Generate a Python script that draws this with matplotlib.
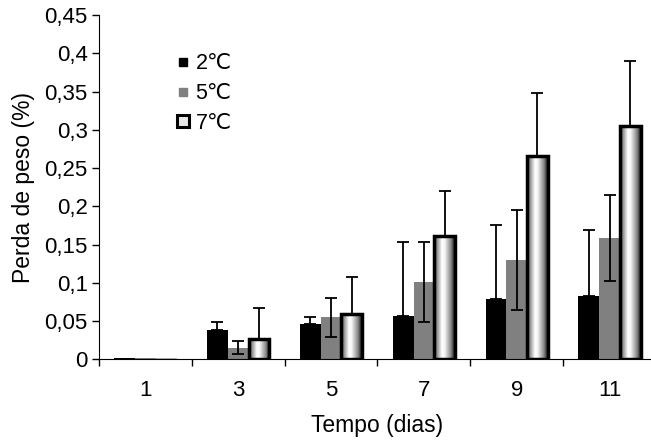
import numpy as np
import matplotlib.pyplot as plt
from matplotlib.lines import Line2D

plt.rcParams['font.family'] = ['Liberation Sans', 'DejaVu Sans']

dias = ['1', '3', '5', '7', '9', '11']
perda_2 = [0.002, 0.039, 0.046, 0.057, 0.079, 0.083]
erro_2 = [0.0, 0.010, 0.009, 0.097, 0.097, 0.086]
perda_5 = [0.002, 0.0155, 0.055, 0.1015, 0.130, 0.159]
erro_5 = [0.0, 0.008, 0.025, 0.052, 0.0655, 0.0565]
perda_7 = [0.002, 0.0265, 0.060, 0.162, 0.2665, 0.3045]
erro_7 = [0.0, 0.0405, 0.048, 0.058, 0.082, 0.0855]
series = ['2\u2103', '5\u2103', '7\u2103']

yticks = [0, 0.05, 0.1, 0.15, 0.2, 0.25, 0.3, 0.35, 0.4, 0.45]
ytick_labels = ['0', '0,05', '0,1', '0,15', '0,2', '0,25', '0,3', '0,35', '0,4', '0,45']

fs = 16
w = 0.223
x = np.arange(len(dias))

fig = plt.figure(figsize=(6.51, 4.46), dpi=100)
ax = fig.add_axes([0.152, 0.194, 0.8556, 0.772])

b2 = ax.bar(x - w, perda_2, w, color='black', zorder=2)
b5 = ax.bar(x, perda_5, w, color='#808080', zorder=2)
lw7 = [0.6 if v < 0.005 else 2.5 for v in perda_7]
ec7 = ['#999999' if v < 0.005 else 'black' for v in perda_7]
b7 = ax.bar(x + w, perda_7, w, facecolor='none', edgecolor=ec7, linewidth=lw7, zorder=3)

# cylinder-like shading inside the 7C bars
prof = np.interp(np.linspace(0, 1, 64), [0, 0.08, 0.38, 0.5, 0.8, 1.0], [0.05, 0.45, 1.0, 0.97, 0.55, 0.1])
grad = np.tile(prof, (2, 1))
for r in b7:
    if r.get_height() < 0.005:
        continue
    ax.imshow(grad, cmap='gray', vmin=0, vmax=1, aspect='auto', interpolation='bilinear',
              extent=[r.get_x(), r.get_x() + r.get_width(), 0, r.get_height()], zorder=2.5)

ekw = dict(fmt='none', ecolor='black', elinewidth=1.3, capsize=4.5, capthick=1.3, zorder=4)
for xs, vals, errs, lower in [(x - w, perda_2, erro_2, False), (x, perda_5, erro_5, True), (x + w, perda_7, erro_7, False)]:
    idx = [i for i, e in enumerate(errs) if e > 0]
    xe = [xs[i] for i in idx]
    ye = [vals[i] for i in idx]
    up = [errs[i] for i in idx]
    lo = up if lower else [0] * len(idx)
    ax.errorbar(xe, ye, yerr=[lo, up], **ekw)

ax.set_xlim(-0.5, 5.5)
ax.set_ylim(0, 0.45)
ax.set_yticks(yticks)
ax.set_yticklabels(ytick_labels, fontsize=fs)
ax.set_xticks(x)
ax.set_xticklabels(dias, fontsize=fs)
ax.set_xticks(np.arange(-0.5, 6, 1), minor=True)
ax.tick_params(axis='x', which='major', length=0, pad=15)
ax.tick_params(axis='x', which='minor', length=5, direction='out', width=1)
ax.tick_params(axis='y', length=5, direction='out', width=1, pad=3)
ax.spines['top'].set_visible(False)
ax.spines['right'].set_visible(False)
ax.set_ylabel('Perda de peso (%)', fontsize=fs + 0.5, labelpad=7)
ax.set_xlabel('Tempo (dias)', fontsize=fs + 0.5, labelpad=9)

handles = [
    Line2D([], [], marker='s', linestyle='none', color='black', markersize=6),
    Line2D([], [], marker='s', linestyle='none', color='#808080', markersize=6),
    Line2D([], [], marker='s', linestyle='none', markerfacecolor='#e8e8e8', markeredgecolor='black',
           markeredgewidth=2.2, markersize=9),
]
leg = ax.legend(handles, series, loc='upper left', bbox_to_anchor=(0.10, 0.945), frameon=False,
                fontsize=fs - 0.5, handlelength=0.8, handletextpad=0.2, labelspacing=0.4)

fig.savefig('out.png', dpi=100)
